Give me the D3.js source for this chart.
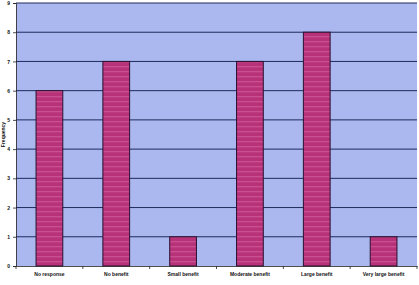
<!DOCTYPE html>
<html>
<head>
<meta charset="utf-8">
<script src="https://cdn.jsdelivr.net/npm/d3@7"></script>
<style>
  html,body{margin:0;padding:0;background:#fff;}
  svg{display:block;}
  .axis text{font-family:"Liberation Sans",Arial,sans-serif;font-size:5px;font-weight:bold;fill:#111;}
  .axis path,.axis line{stroke:#222;stroke-width:0.8;}
</style>
</head>
<body>
<svg id="chart" width="419" height="285"></svg>
<script>
/* ===== Data ===== */
const categories = ['No response','No benefit','Small benefit','Moderate benefit','Large benefit','Very large benefit'];
const frequency  = [6, 7, 1, 7, 8, 1];
const yTicks     = [0,1,2,3,4,5,6,7,8,9];

/* ===== Chart ===== */
const svg = d3.select('#chart');
const m = {t:3, r:2, b:19, l:16};
const W = 419, H = 285;
const innerW = W-m.l-m.r, innerH = H-m.t-m.b;

const defs = svg.append('defs');
const pat = defs.append('pattern').attr('id','stripes').attr('patternUnits','userSpaceOnUse')
  .attr('width',10).attr('height',5);
pat.append('rect').attr('width',10).attr('height',5).attr('fill','#b8327a');
pat.append('rect').attr('y',3).attr('width',10).attr('height',1.3).attr('fill','#c8508e');

const g = svg.append('g').attr('transform',`translate(${m.l},${m.t})`);

const x = d3.scaleBand().domain(categories).range([0,innerW]).paddingInner(0.6).paddingOuter(0.3);
const y = d3.scaleLinear().domain([0,9]).range([innerH,0]);

// plot background
g.append('rect').attr('width',innerW).attr('height',innerH).attr('fill','#aab8ef');

// gridlines
g.selectAll('.grid').data(yTicks.filter(d=>d>0)).enter().append('line')
  .attr('x1',0).attr('x2',innerW).attr('y1',d=>y(d)).attr('y2',d=>y(d))
  .attr('stroke','#1e2a5c').attr('stroke-width',1);

// bars
g.selectAll('.bar').data(frequency).enter().append('rect')
  .attr('x',(d,i)=>x(categories[i])).attr('y',d=>y(d))
  .attr('width',x.bandwidth()).attr('height',d=>innerH-y(d))
  .attr('fill','url(#stripes)').attr('stroke','#2a1030').attr('stroke-width',1);

// axes
const step = x.step();
const xA = d3.axisBottom(x).tickSize(0).tickPadding(6);
const xg = g.append('g').attr('class','axis').attr('transform',`translate(0,${innerH})`).call(xA);
// tick marks at band boundaries
xg.selectAll('.bnd').data(d3.range(categories.length+1)).enter().append('line')
  .attr('x1',i=>i*step).attr('x2',i=>i*step).attr('y1',0).attr('y2',3)
  .attr('stroke','#222').attr('stroke-width',0.8);

const yA = d3.axisLeft(y).tickValues(yTicks).tickSize(3).tickPadding(3);
g.append('g').attr('class','axis').call(yA);

svg.append('text').attr('transform',`translate(5,${m.t+innerH/2}) rotate(-90)`)
  .attr('text-anchor','middle').attr('font-family','"Liberation Sans",Arial,sans-serif')
  .attr('font-size',5).attr('font-weight','bold').attr('fill','#111').text('Frequency');
</script>
</body>
</html>
